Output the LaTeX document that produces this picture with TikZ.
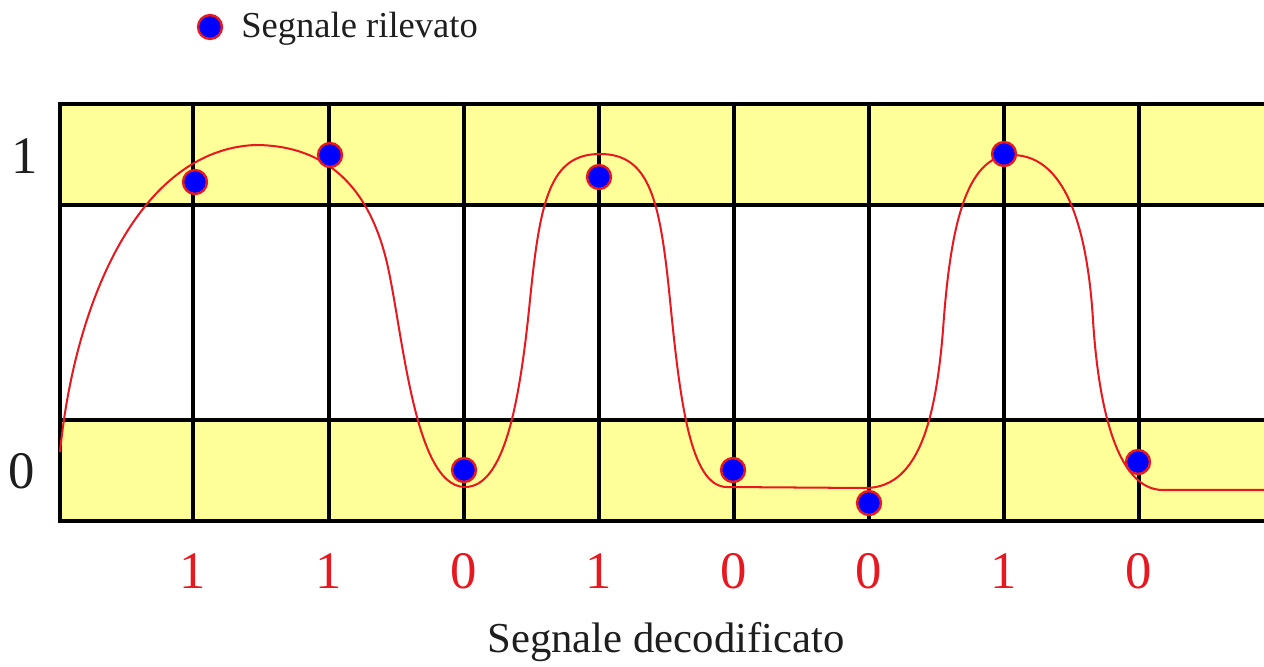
\documentclass[tikz,border=0pt]{standalone}
\usepackage{fontspec}
\setmainfont{Liberation Serif}
\definecolor{bandyellow}{RGB}{255,255,153}
\definecolor{sigred}{RGB}{232,24,32}
\definecolor{inkgray}{RGB}{30,30,30}
\begin{document}
\begin{tikzpicture}[x=0.02cm,y=-0.02cm,
  gridline/.style={line width=2pt, draw=black, line cap=rect},
  sample/.style={circle, fill=blue, draw=sigred, line width=1.4pt, minimum size=13.6pt, inner sep=0pt},
  bit/.style={text=sigred, font=\fontsize{30}{30}\selectfont, anchor=base, inner sep=0pt},
  level/.style={text=inkgray, font=\fontsize{30}{30}\selectfont, anchor=base, inner sep=0pt},
  signal/.style={draw=sigred, line width=1.15pt, line join=round}]
\useasboundingbox (0,0) rectangle (1264,666);
% yellow bands
\fill[bandyellow] (60,104) rectangle (1264,205);
\fill[bandyellow] (60,420) rectangle (1264,521);
% grid
\foreach \yy in {104,205,420,521} \draw[gridline] (60,\yy) -- (1266,\yy);
\foreach \xx in {60,193,329,464,599,734,869,1004,1139} \draw[gridline] (\xx,104) -- (\xx,521);
% received signal
\draw[signal] (60,452) .. controls (75,300) and (140,150) .. (255,145)
  .. controls (320,145) and (365,180) .. (385,255)
  .. controls (402,318) and (412,487) .. (465,487)
  .. controls (505,487) and (520,400) .. (530,300)
  .. controls (540,200) and (550,154) .. (600,154)
  .. controls (650,154) and (660,200) .. (670,300)
  .. controls (680,400) and (690,487) .. (727,487)
  -- (865,488)
  .. controls (915,488) and (935,430) .. (943,330)
  .. controls (950,230) and (965,155) .. (1012,155)
  .. controls (1070,155) and (1088,240) .. (1093,320)
  .. controls (1098,400) and (1115,490) .. (1163,490)
  -- (1266,490);
% samples
\node[sample] (s1) at (195,182) {};
\node[sample] (s2) at (330,155) {};
\node[sample] (s3) at (464,470) {};
\node[sample] (s4) at (599,177) {};
\node[sample] (s5) at (733,470) {};
\node[sample] (s6) at (869,503) {};
\node[sample] (s7) at (1004,154) {};
\node[sample] (s8) at (1138,462) {};
% level labels
\node[level] (lvl1) at (25,173) {1};
\node[level] (lvl0) at (22,488) {0};
% decoded bits
\node[bit] (b1) at (193,588) {1};
\node[bit] (b2) at (329,588) {1};
\node[bit] (b3) at (464,588) {0};
\node[bit] (b4) at (599,588) {1};
\node[bit] (b5) at (734,588) {0};
\node[bit] (b6) at (869,588) {0};
\node[bit] (b7) at (1004,588) {1};
\node[bit] (b8) at (1139,588) {0};
% legend
\node[sample] (legdot) at (210,27) {};
\node[anchor=base west, inner sep=0pt, text=inkgray, font=\fontsize{20.8}{24}\selectfont] (legtxt) at (241,37) {Segnale rilevato};
% caption
\node[anchor=base, inner sep=0pt, text=inkgray, font=\fontsize{24.3}{28}\selectfont] (caption) at (666,652) {Segnale decodificato};
\end{tikzpicture}
\end{document}
